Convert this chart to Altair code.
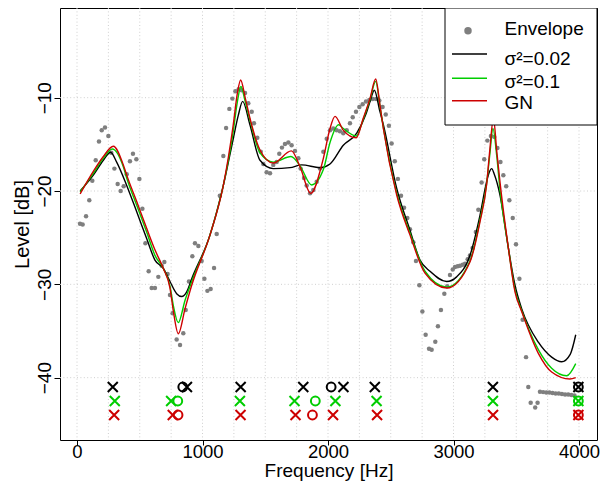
import altair as alt
import pandas as pd

# ---------------- data ----------------
env_freq = [24, 45, 72, 98, 122, 149, 175, 197, 223, 250, 273, 298, 324, 348, 372, 396, 422, 446, 473, 497,
            521, 545, 571, 595, 621, 648, 675, 696, 722, 741, 762, 794, 821, 847, 866, 892, 919, 940, 967, 993,
            1015, 1039, 1065, 1092, 1113, 1138, 1166, 1188, 1214, 1238, 1262, 1288, 1312, 1339, 1365, 1392, 1410,
            1437, 1464, 1485, 1511, 1538, 1564, 1591, 1612, 1633, 1657, 1684, 1710, 1737, 1764, 1782, 1809, 1830,
            1857, 1883, 1910, 1936, 1963, 1990, 2016, 2042, 2069, 2095, 2122, 2149, 2175, 2197, 2223, 2250, 2276,
            2303, 2329, 2356, 2383, 2409, 2435, 2460, 2485, 2507, 2532, 2557, 2582, 2606, 2632, 2653, 2680, 2701,
            2728, 2752, 2778, 2805, 2826, 2855, 2876, 2900, 2927, 2950, 2972, 2994, 3012, 3033, 3052, 3073, 3092,
            3113, 3131, 3152, 3178, 3198, 3224, 3245, 3270, 3298, 3325, 3350, 3374, 3397, 3420, 3445, 3472, 3498,
            3525, 3551, 3578, 3596, 3615, 3651, 3670, 3689, 3714, 3739, 3764, 3789, 3814, 3839, 3864, 3889, 3914,
            3939, 3964]
env_level = [-23.5, -23.6, -22.7, -21.0, -18.9, -16.7, -14.7, -13.5, -13.2, -14.1, -15.9, -17.6, -19.25, -20.0,
             -19.5, -18.2, -16.8, -16.0, -16.6, -18.7, -21.9, -25.6, -28.6, -30.4, -30.4, -29.2, -28.0, -27.6,
             -28.9, -31.15, -33.1, -35.9, -36.5, -35.25, -32.75, -29.7, -27.0, -25.6, -25.9, -27.5, -29.4, -30.7,
             -30.5, -28.25, -24.6, -20.5, -16.25, -13.25, -11.2, -10.1, -9.3, -9.1, -9.2, -9.5, -10.6, -11.5,
             -12.75, -14.3, -15.8, -17.1, -18.0, -18.1, -17.2, -16.9, -16.0, -15.35, -14.96, -14.8, -15.1, -15.7,
             -16.5, -17.6, -18.6, -19.4, -20.25, -19.9, -19.0, -17.6, -15.8, -14.4, -13.5, -13.3, -13.5, -13.6,
             -13.8, -13.5, -12.75, -12.1, -11.5, -11.0, -10.7, -10.4, -10.25, -10.15, -10.15, -10.3, -11.0, -11.8,
             -13.0, -14.9, -16.8, -18.7, -20.5, -21.8, -22.9, -24.1, -25.5, -27.5, -30.1, -32.9, -35.4, -36.9,
             -37.0, -36.15, -34.5, -32.75, -31.0, -30.2, -29.0, -28.4, -28.15, -28.07, -28.0, -27.9, -27.8, -27.3,
             -26.9, -26.1, -24.4, -22.0, -19.1, -16.6, -14.6, -14.1, -14.2, -15.4, -16.9, -18.3, -19.5, -21.0,
             -22.9, -25.7, -29.4, -33.8, -37.8, -41.0, -42.7, -43.2, -42.7, -41.5, -41.55, -41.6, -41.6, -41.65,
             -41.7, -41.7, -41.75, -41.8, -41.8, -41.85, -41.9]

black_freq = [25, 130, 210, 268, 316, 396, 475, 555, 621, 688, 741, 794, 834, 874, 914, 1060, 1166, 1245, 1285,
              1320, 1378, 1458, 1564, 1697, 1790, 1936, 2016, 2122, 2229, 2304, 2335, 2369, 2414, 2441, 2547, 2653,
              2733, 2813, 2946, 3025, 3131, 3211, 3264, 3285, 3304, 3325, 3370, 3437, 3490, 3543, 3676, 3782, 3862,
              3930, 3974]
black_level = [-20.0, -18.3, -16.7, -15.85, -16.9, -19.4, -22.2, -25.1, -27.4, -28.3, -29.7, -31.0, -31.3, -30.8,
               -29.4, -24.7, -19.4, -14.4, -11.9, -10.4, -12.9, -16.7, -17.6, -17.5, -17.2, -17.5, -17.1, -15.1,
               -13.8, -11.7, -10.4, -9.2, -11.5, -12.9, -19.7, -24.2, -27.4, -28.6, -29.7, -29.2, -26.9, -22.6,
               -19.0, -18.0, -17.6, -18.2, -20.4, -26.1, -30.1, -32.6, -36.2, -37.8, -38.3, -37.5, -35.4]

green_freq = [25, 130, 210, 281, 369, 396, 475, 555, 621, 688, 741, 768, 807, 861, 914, 1060, 1166, 1245, 1277,
              1306, 1340, 1378, 1458, 1564, 1705, 1777, 1870, 1963, 2016, 2085, 2122, 2225, 2281, 2335, 2380, 2414,
              2441, 2547, 2653, 2773, 2946, 3131, 3211, 3264, 3290, 3314, 3345, 3370, 3437, 3490, 3543, 3676, 3782,
              3902, 3974]
green_level = [-20.1, -18.1, -16.5, -15.5, -17.4, -18.6, -21.5, -24.4, -26.9, -28.3, -30.2, -32.3, -34.1, -31.7,
               -29.7, -24.7, -19.4, -13.6, -10.5, -8.8, -10.4, -12.4, -15.9, -16.9, -16.3, -17.3, -19.35, -17.7,
               -14.8, -12.9, -13.3, -14.1, -12.3, -10.2, -8.25, -10.9, -13.2, -20.2, -24.5, -28.6, -30.3, -27.5,
               -23.1, -19.2, -16.0, -13.3, -16.3, -19.8, -26.1, -30.6, -32.8, -37.0, -39.0, -39.8, -38.5]

red_freq = [25, 130, 210, 289, 369, 396, 475, 555, 621, 688, 741, 768, 807, 861, 914, 1060, 1166, 1245, 1277,
            1304, 1340, 1378, 1458, 1564, 1708, 1777, 1862, 1963, 2016, 2056, 2122, 2225, 2281, 2335, 2380, 2414,
            2441, 2547, 2653, 2773, 2946, 3131, 3211, 3264, 3290, 3318, 3345, 3370, 3437, 3490, 3543, 3676, 3782,
            3928, 3974]
red_level = [-20.3, -17.9, -16.3, -15.2, -17.2, -18.3, -21.1, -24.0, -26.3, -28.3, -30.4, -32.9, -35.3, -32.6,
             -30.1, -24.7, -19.4, -12.9, -9.6, -8.1, -10.0, -12.2, -15.6, -17.0, -15.7, -17.4, -20.25, -16.5,
             -13.3, -12.0, -13.5, -14.3, -12.2, -10.07, -8.0, -10.8, -13.3, -20.4, -24.7, -28.8, -30.4, -27.6,
             -23.3, -19.3, -15.5, -12.2, -15.8, -19.0, -26.1, -30.8, -32.9, -37.4, -39.4, -40.15, -40.0]

# pole (x) / zero (o) frequencies and the row level at which they are drawn
black_x = [285, 876, 1304, 1803, 2123, 2373, 3314, 3995]
black_o = [843, 2025, 3995]
green_x = [301, 750, 1298, 1733, 2059, 2387, 3314, 3995]
green_o = [803, 1899, 3995]
red_x = [296, 763, 1303, 1741, 2040, 2391, 3315, 3995]
red_o = [805, 1876, 3995]
row_level = {"s002": -41.0, "s01": -42.5, "gn": -44.0}

series_names = ["s002", "s01", "gn"]
series_colors = ["#000000", "#00CD00", "#CD0000"]
legend_labels = ["Envelope", "σ²=0.02", "σ²=0.1", "GN"]

x_ticks = [0, 1000, 2000, 3000, 4000]
x_grid = list(range(0, 4001, 250))
y_ticks = [-10, -20, -30, -40]

# ---------------- layout ----------------
W, H = 537, 432
FONT = "Liberation Sans"
GREY = "#7F7F7F"

xscale = alt.Scale(domain=[-135.5, 4143.4], nice=False, zero=False)
yscale = alt.Scale(domain=[-46.68, -0.39], nice=False, zero=False)

xaxis = alt.Axis(values=x_ticks, format="d", grid=False, domain=False, ticks=True, tickSize=5,
                 tickColor="black", tickWidth=1, labelFont=FONT, labelFontSize=18.5, labelColor="black",
                 labelPadding=-3, labelFlush=False, labelOverlap=False,
                 title="Frequency [Hz]", titleFont=FONT, titleFontSize=19, titleFontWeight="normal",
                 titleColor="black", titleX=W / 2, titleY=36, titleAlign="center", titleBaseline="alphabetic")
yaxis = alt.Axis(values=y_ticks, format="d", grid=False, domain=False, ticks=True, tickSize=6,
                 tickColor="black", tickWidth=1, labelFont=FONT, labelFontSize=19, labelColor="black",
                 labelAngle=270, labelAlign="center", labelBaseline="bottom", labelPadding=0,
                 labelFlush=False, labelOverlap=False,
                 title="Level [dB]", titleFont=FONT, titleFontSize=20, titleFontWeight="normal",
                 titleColor="black", titleAngle=270, titleX=-38, titleY=216, titleAlign="center",
                 titleBaseline="middle")


def X(field="f"):
    return alt.X(f"{field}:Q", scale=xscale, axis=xaxis)


def Y(field="L"):
    return alt.Y(f"{field}:Q", scale=yscale, axis=yaxis)


grid_v = alt.Chart(pd.DataFrame({"f": x_grid})).mark_rule(
    color="#CFCFCF", strokeDash=[1, 2.4], strokeWidth=1
).encode(x=X(), y=alt.value(0), y2=alt.value(H))

grid_h = alt.Chart(pd.DataFrame({"L": y_ticks})).mark_rule(
    color="#CFCFCF", strokeDash=[1, 2.4], strokeWidth=1
).encode(y=Y(), x=alt.value(0), x2=alt.value(W))

env = alt.Chart(pd.DataFrame({"f": env_freq, "L": env_level})).mark_circle(
    size=20, color=GREY, opacity=1
).encode(x=X(), y=Y())


def curve(freq, level, color):
    return alt.Chart(pd.DataFrame({"f": freq, "L": level})).mark_line(
        color=color, strokeWidth=1.4, interpolate="monotone"
    ).encode(x=X(), y=Y(), order="f:Q")


line_b = curve(black_freq, black_level, series_colors[0])
line_g = curve(green_freq, green_level, series_colors[1])
line_r = curve(red_freq, red_level, series_colors[2])

rows = []
for name, xs, os_ in [("s002", black_x, black_o), ("s01", green_x, green_o), ("gn", red_x, red_o)]:
    for f in xs:
        rows.append({"f": f, "L": row_level[name], "series": name, "kind": "x"})
    for f in os_:
        rows.append({"f": f, "L": row_level[name], "series": name, "kind": "o"})
markers = pd.DataFrame(rows)
color_enc = alt.Color("series:N", scale=alt.Scale(domain=series_names, range=series_colors), legend=None)

mk_x = alt.Chart(markers).transform_filter(alt.datum.kind == "x").mark_point(
    shape="M-1,-1L1,1M-1,1L1,-1", size=100, strokeWidth=2, filled=False, opacity=1
).encode(x=X(), y=Y(), color=color_enc)

mk_o = alt.Chart(markers).transform_filter(alt.datum.kind == "o").mark_point(
    shape="circle", size=78, strokeWidth=2, filled=False, opacity=1
).encode(x=X(), y=Y(), color=color_enc)

# ---------------- legend (drawn as marks) ----------------
one = pd.DataFrame({"k": [0]})
leg_box = alt.Chart(one).mark_rect(fill="white", stroke="black", strokeWidth=1).encode(
    x=alt.value(385), x2=alt.value(W), y=alt.value(0), y2=alt.value(117))
leg_pt = alt.Chart(one).mark_circle(size=56, color=GREY, opacity=1).encode(
    x=alt.value(408), y=alt.value(22.7))
leg_lines = [
    alt.Chart(one).mark_rule(color=c, strokeWidth=1.4).encode(
        x=alt.value(392), x2=alt.value(427), y=alt.value(yy))
    for c, yy in zip(series_colors, [46, 70.3, 92.7])
]
leg_texts = [
    alt.Chart(one).mark_text(align="left", baseline="alphabetic", font=FONT, fontSize=19,
                             color="black").encode(x=alt.value(444.5), y=alt.value(yy), text=alt.value(t))
    for t, yy in zip(legend_labels, [27.3, 57, 80.3, 101.3])
]

chart = alt.layer(
    grid_v, grid_h, env, line_b, line_g, line_r, mk_x, mk_o, leg_box, leg_pt, *leg_lines, *leg_texts
).properties(
    width=W, height=H,
    padding={"left": 52, "top": 0, "right": 5, "bottom": 41},
    autosize=alt.AutoSizeParams(type="none"),
    background="white",
).configure_view(stroke="black", strokeWidth=1)

chart.save("out.html", embed_options={"renderer": "svg", "actions": False})
